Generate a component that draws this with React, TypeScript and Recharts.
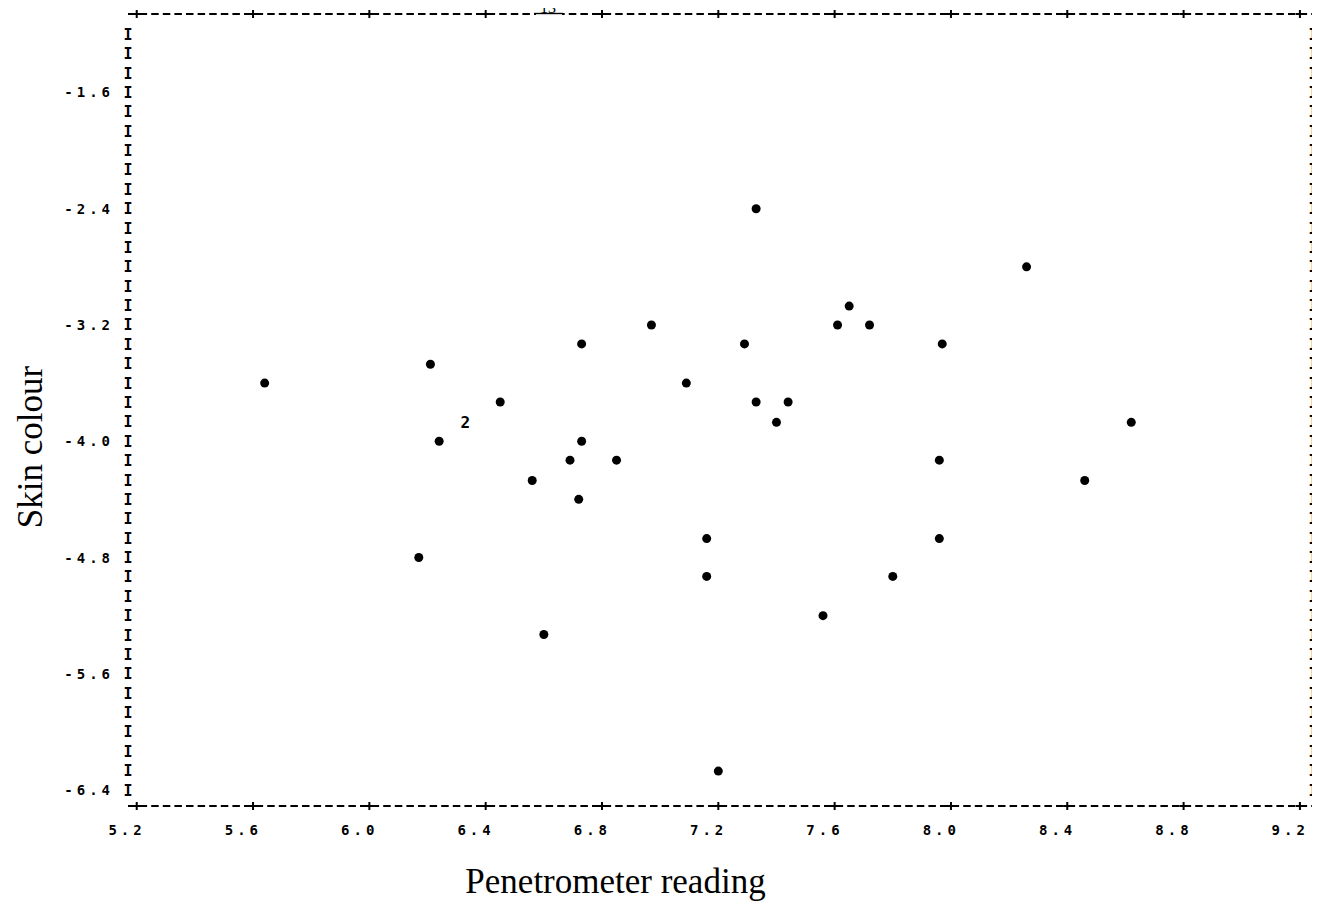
import React from 'react';
import { ScatterChart, Scatter, XAxis, YAxis, Label } from 'recharts';

// Axis ticks
const xTicks = [5.2, 5.6, 6.0, 6.4, 6.8, 7.2, 7.6, 8.0, 8.4, 8.8, 9.2];
const yLabelTicks = [-6.4, -5.6, -4.8, -4.0, -3.2, -2.4, -1.6];
// printer rows: 6 rows per labelled interval of 0.8, from -6.4 up to -1.2
const yRowCount = 40;
const yRowTicks = Array.from({ length: yRowCount }, (_, k) => Number((-6.4 + (k * 0.8) / 6).toFixed(4)));

const xDomain = [5.17, 9.245];
const yDomain = [-6.51, -1.06];

// Observations: penetrometer reading (x) vs skin colour (y)
const penetrometer = [
  5.64, 6.21, 6.73, 6.45, 6.24, 6.73, 6.69, 6.85, 6.56, 6.72, 6.17,
  7.16, 7.16, 6.6, 7.2, 7.33, 7.65, 6.97, 7.61, 7.72, 7.29, 7.97,
  7.09, 7.33, 7.44, 7.4, 7.96, 7.96, 7.8, 7.56, 8.26, 8.62, 8.46,
];
const skinColour = [
  -3.6, -3.47, -3.33, -3.73, -4.0, -4.0, -4.13, -4.13, -4.27, -4.4, -4.8,
  -4.67, -4.93, -5.33, -6.27, -2.4, -3.07, -3.2, -3.2, -3.2, -3.33, -3.33,
  -3.6, -3.73, -3.73, -3.87, -4.13, -4.67, -4.93, -5.2, -2.8, -3.87, -4.27,
];
// position where two observations coincide (printed as "2")
const doubleX = [6.33];
const doubleY = [-3.87];

const points = penetrometer.map((x, i) => ({ x, y: skinColour[i] }));
const doubles = doubleX.map((x, i) => ({ x, y: doubleY[i] }));

const MONO = "'DejaVu Sans Mono', monospace";
const SERIF = "'Liberation Serif', 'Times New Roman', serif";

const BottomTick = (props: any) => {
  const { x, y, payload } = props;
  return (
    <g>
      <path d={`M${x - 4},${y}h8M${x},${y - 4}v8`} stroke="#000" strokeWidth={2} />
      <text
        x={x + 9}
        y={y + 29}
        textAnchor="end"
        fontFamily={MONO}
        fontWeight="bold"
        fontSize={14}
        letterSpacing={4}
        fill="#000"
      >
        {Number(payload.value).toFixed(1)}
      </text>
    </g>
  );
};

const TopTick = (props: any) => {
  const { x, y } = props;
  return <path d={`M${x - 4},${y}h8M${x},${y - 4}v8`} stroke="#000" strokeWidth={2} />;
};

const isLabelled = (v: number) => yLabelTicks.some((t) => Math.abs(t - v) < 1e-3);

const LeftTick = (props: any) => {
  const { x, y, payload } = props;
  const v = Number(payload.value);
  return (
    <g>
      <text x={x} y={y + 5.5} textAnchor="middle" fontFamily={MONO} fontWeight="bold" fontSize={15} fill="#000">
        I
      </text>
      {isLabelled(v) && (
        <text
          x={x - 14}
          y={y + 5}
          textAnchor="end"
          fontFamily={MONO}
          fontWeight="bold"
          fontSize={14}
          letterSpacing={4}
          fill="#000"
        >
          {v.toFixed(1)}
        </text>
      )}
    </g>
  );
};

const RightTick = (props: any) => {
  const { x, y } = props;
  return (
    <text x={x} y={y + 5.5} textAnchor="middle" fontFamily={MONO} fontWeight="bold" fontSize={15} fill="#000">
      I
    </text>
  );
};

const Dot = (props: any) => {
  const { cx, cy } = props;
  return <circle cx={cx} cy={cy} r={4.5} fill="#000" />;
};

const DoubleMark = (props: any) => {
  const { cx, cy } = props;
  return (
    <text x={cx} y={cy + 6} textAnchor="middle" fontFamily={MONO} fontWeight="bold" fontSize={16} fill="#000">
      2
    </text>
  );
};

const XTitle = (props: any) => {
  const vb = props.viewBox || {};
  return (
    <text
      x={vb.x + vb.width / 2 - 105}
      y={vb.y + 87}
      textAnchor="middle"
      fontFamily={SERIF}
      fontSize={35}
      fill="#000"
    >
      Penetrometer reading
    </text>
  );
};

const YTitle = (props: any) => {
  const vb = props.viewBox || {};
  const cx = vb.x + 42;
  const cy = vb.y + vb.height / 2 + 37;
  return (
    <text
      x={cx}
      y={cy}
      transform={`rotate(-90, ${cx}, ${cy})`}
      textAnchor="middle"
      fontFamily={SERIF}
      fontSize={35}
      fill="#000"
    >
      Skin colour
    </text>
  );
};

export default function App() {
  return (
    <div style={{ margin: '-8px 0 0 -8px', position: 'relative', width: 1320, height: 903, background: '#fff' }}>
      <ScatterChart width={1320} height={903} margin={{ top: 12, right: 4, bottom: 0, left: 0 }}>
        <XAxis
          xAxisId={0}
          type="number"
          dataKey="x"
          domain={xDomain}
          ticks={xTicks}
          interval={0}
          allowDataOverflow
          height={97}
          tickSize={0}
          tickMargin={0}
          tickLine={false}
          axisLine={{ stroke: '#000', strokeWidth: 1.8, strokeDasharray: '7.5 4.1' }}
          tick={<BottomTick />}
        >
          <Label content={<XTitle />} />
        </XAxis>
        <XAxis
          xAxisId="top"
          orientation="top"
          type="number"
          dataKey="x"
          domain={xDomain}
          ticks={xTicks}
          interval={0}
          allowDataOverflow
          height={2}
          tickSize={0}
          tickMargin={0}
          tickLine={false}
          axisLine={{ stroke: '#000', strokeWidth: 1.8, strokeDasharray: '7.5 4.1' }}
          tick={<TopTick />}
        />
        <YAxis
          yAxisId={0}
          type="number"
          dataKey="y"
          domain={yDomain}
          ticks={yRowTicks}
          interval={0}
          allowDataOverflow
          width={128}
          tickSize={0}
          tickMargin={0}
          tickLine={false}
          axisLine={false}
          tick={<LeftTick />}
        >
          <Label content={<YTitle />} />
        </YAxis>
        <YAxis
          yAxisId="right"
          orientation="right"
          type="number"
          dataKey="y"
          domain={yDomain}
          ticks={yRowTicks}
          interval={0}
          allowDataOverflow
          width={3}
          tickSize={0}
          tickMargin={0}
          tickLine={false}
          axisLine={false}
          tick={<RightTick />}
        />
        <Scatter data={points} xAxisId={0} yAxisId={0} shape={<Dot />} isAnimationActive={false} />
        <Scatter data={doubles} xAxisId={0} yAxisId={0} shape={<DoubleMark />} isAnimationActive={false} />
      </ScatterChart>
      <svg
        width={1320}
        height={30}
        style={{ position: 'absolute', left: 0, top: 0, pointerEvents: 'none' }}
      >
        <rect x={536} y={11} width={26} height={5} fill="#fff" />
        <line x1={534} y1={13.5} x2={563} y2={13.5} stroke="#000" strokeWidth={1.4} />
        <text x={548} y={13} textAnchor="middle" fontFamily={SERIF} fontSize={16} fill="#000">
          13
        </text>
      </svg>
    </div>
  );
}
